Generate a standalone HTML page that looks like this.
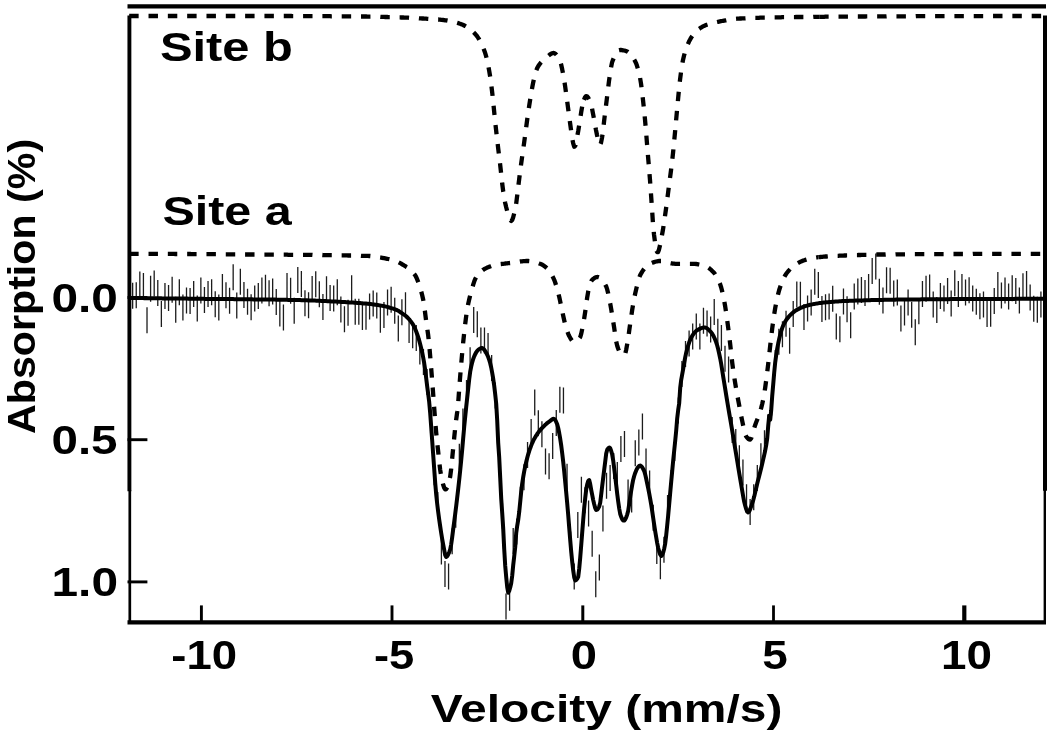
<!DOCTYPE html>
<html lang="en"><head><meta charset="utf-8"><title>Absorption vs Velocity spectrum</title>
<style>html,body{margin:0;padding:0;background:#fff;}body{width:1050px;height:741px;overflow:hidden;}svg{display:block;}</style>
</head><body>
<svg width="1050" height="741" viewBox="0 0 1050 741" font-family="'Liberation Sans', Arial, Helvetica, sans-serif" font-weight="bold" fill="#000">
<rect width="1050" height="741" fill="#fff"/>
<path d="M132.65 282.8V308.8M136.24 282.3V308.3M139.83 271.6V297.6M143.42 272.9V298.9M147.01 307.2V333.2M150.60 275.7V301.7M154.19 270.5V296.5M157.78 280.0V306.0M161.37 300.9V326.9M164.96 282.9V308.9M168.55 285.1V311.1M172.14 276.8V302.8M175.73 296.7V322.7M179.32 279.3V305.3M182.91 294.4V320.4M186.50 287.4V313.4M190.09 288.0V314.0M193.68 281.1V307.1M197.27 295.6V321.6M200.86 277.5V303.5M204.45 287.0V313.0M208.04 280.9V306.9M211.63 279.3V305.3M215.22 291.2V317.2M218.81 294.4V320.4M222.40 274.0V300.0M225.99 282.2V308.2M229.58 287.8V313.8M233.17 264.2V290.2M236.76 292.4V318.4M240.35 268.7V294.7M243.94 282.0V308.0M247.53 288.8V314.8M251.12 294.2V320.2M254.71 285.4V311.4M258.30 282.9V308.9M261.89 277.6V303.6M265.48 274.7V300.7M269.07 280.3V306.3M272.66 278.4V304.4M276.25 288.9V314.9M279.84 300.5V326.5M283.43 304.4V330.4M287.02 272.9V298.9M290.61 277.8V303.8M294.20 297.8V323.8M297.79 267.0V293.0M301.38 270.9V296.9M304.97 290.3V316.3M308.56 292.2V318.2M312.15 276.0V302.0M315.74 271.2V297.2M319.33 281.3V307.3M322.92 293.9V319.9M326.51 276.3V302.3M330.10 285.1V311.1M333.69 285.6V311.6M337.28 279.3V305.3M340.87 296.4V322.4M344.46 306.2V332.2M348.05 299.8V325.8M351.64 275.3V301.3M355.23 298.8V324.8M358.82 298.8V324.8M362.41 304.0V330.0M366.00 303.7V329.7M369.59 293.4V319.4M373.18 290.5V316.5M376.77 292.6V318.6M380.36 306.7V332.7M383.95 302.0V328.0M387.54 289.5V315.5M391.13 286.8V312.8M394.72 297.7V323.7M398.31 315.5V341.5M401.90 299.3V325.3M405.49 292.3V318.3M409.08 316.9V342.9M412.67 322.3V348.3M416.26 325.0V351.0M419.85 338.5V364.5M423.44 349.0V375.0M427.03 369.1V395.1M430.62 407.5V433.5M434.21 459.2V485.2M437.80 491.9V517.9M441.39 538.6V564.6M444.98 561.1V587.1M448.57 563.5V589.5M452.16 528.2V554.2M455.75 501.7V527.7M459.34 443.7V469.7M462.93 408.6V434.6M466.52 380.0V406.0M470.11 347.2V373.2M473.70 307.0V333.0M477.29 311.3V337.3M480.88 327.6V353.6M484.47 327.6V353.6M488.06 333.1V359.1M491.65 354.9V380.9M495.24 382.6V408.6M498.83 439.6V465.6M502.42 502.9V528.9M506.01 593.5V619.5M509.60 584.7V610.7M513.19 528.1V554.1M516.78 518.5V544.5M520.37 486.7V512.7M523.96 464.3V490.3M527.55 442.0V468.0M531.14 419.0V445.0M534.73 389.6V415.6M538.32 410.3V436.3M541.91 421.3V447.3M545.50 448.5V474.5M549.09 453.3V479.3M552.68 433.0V459.0M556.27 410.1V436.1M559.86 386.8V412.8M563.45 387.6V413.6M567.04 463.7V489.7M570.63 531.4V557.4M574.22 563.5V589.5M577.81 512.0V538.0M581.40 476.7V502.7M584.99 487.3V513.3M588.58 500.6V526.6M592.17 530.8V556.8M595.76 571.2V597.2M599.35 554.4V580.4M602.94 505.4V531.4M606.53 472.7V498.7M610.12 465.0V491.0M613.71 453.0V479.0M617.30 462.0V488.0M620.89 436.1V462.1M624.48 430.9V456.9M628.07 479.4V505.4M631.66 486.6V512.6M635.25 440.3V466.3M638.84 429.6V455.6M642.43 413.4V439.4M646.02 448.4V474.4M649.61 470.4V496.4M653.20 504.8V530.8M656.79 538.0V564.0M660.38 553.3V579.3M663.97 536.8V562.8M667.56 494.9V520.9M671.15 470.0V496.0M674.74 435.1V461.1M678.33 397.6V423.6M681.92 361.1V387.1M685.51 341.0V367.0M689.10 330.5V356.5M692.69 323.4V349.4M696.28 313.4V339.4M699.87 323.4V349.4M703.46 307.8V333.8M707.05 310.5V336.5M710.64 316.5V342.5M714.23 299.1V325.1M717.82 318.8V344.8M721.41 324.9V350.9M725.00 345.7V371.7M728.59 356.5V382.5M732.18 417.1V443.1M735.77 429.0V455.0M739.36 445.2V471.2M742.95 459.4V485.4M746.54 484.3V510.3M750.13 499.0V525.0M753.72 484.3V510.3M757.31 465.0V491.0M760.90 443.2V469.2M764.49 430.3V456.3M768.08 414.2V440.2M771.67 389.4V415.4M775.26 349.9V375.9M778.85 328.7V354.7M782.44 321.2V347.2M786.03 310.7V336.7M789.62 327.8V353.8M793.21 301.1V327.1M796.80 281.4V307.4M800.39 281.7V307.7M803.98 303.9V329.9M807.57 295.4V321.4M811.16 289.4V315.4M814.75 268.7V294.7M818.34 272.0V298.0M821.93 296.1V322.1M825.52 294.3V320.3M829.11 293.4V319.4M832.70 285.8V311.8M836.29 313.5V339.5M839.88 316.2V342.2M843.47 288.6V314.6M847.06 296.3V322.3M850.65 312.3V338.3M854.24 283.6V309.6M857.83 278.4V304.4M861.42 277.0V303.0M865.01 279.9V305.9M868.60 274.0V300.0M872.19 258.0V284.0M875.78 253.4V279.4M879.37 278.7V304.7M882.96 287.6V313.6M886.55 267.3V293.3M890.14 267.8V293.8M893.73 280.4V306.4M897.32 279.5V305.5M900.91 305.5V331.5M904.50 299.4V325.4M908.09 289.5V315.5M911.68 301.7V327.7M915.27 319.2V345.2M918.86 298.3V324.3M922.45 280.9V306.9M926.04 275.8V301.8M929.63 274.4V300.4M933.22 291.4V317.4M936.81 296.9V322.9M940.40 283.1V309.1M943.99 285.5V311.5M947.58 277.9V303.9M951.17 290.5V316.5M954.76 270.3V296.3M958.35 280.9V306.9M961.94 274.0V300.0M965.53 279.5V305.5M969.12 277.2V303.2M972.71 285.5V311.5M976.30 288.7V314.7M979.89 293.2V319.2M983.48 291.4V317.4M987.07 301.0V327.0M990.66 300.7V326.7M994.25 287.9V313.9M997.84 272.0V298.0M1001.43 282.6V308.6M1005.02 277.6V303.6M1008.61 283.5V309.5M1012.20 275.3V301.3M1015.79 277.9V303.9M1019.38 287.6V313.6M1022.97 273.3V299.3M1026.56 270.9V296.9M1030.15 284.6V310.6M1033.74 295.8V321.8M1037.33 296.7V322.7M1040.92 291.4V317.4" stroke="#1c1c1c" stroke-width="1.3" fill="none"/>
<g stroke="#000" fill="none" stroke-linecap="butt">
<path d="M127.5 6.4H1046" stroke-width="4.1"/>
<path d="M127.5 622.4H1046" stroke-width="4.15"/>
<path d="M129.4 15.5V491.2" stroke-width="3.9"/>
<path d="M129.8 490V622" stroke-width="2.7"/>
<path d="M1045 15.5V490.8" stroke-width="4"/>
<path d="M1044.8 490V622" stroke-width="2.4"/>
<path d="M201.4 605.4V622" stroke-width="2.9"/>
<path d="M392.0 605.4V622" stroke-width="2.9"/>
<path d="M582.8 605.4V622" stroke-width="3.0"/>
<path d="M773.5 605.4V622" stroke-width="2.8"/>
<path d="M964.3 605.4V622" stroke-width="4.2"/>
<path d="M127.5 297.5H147.4" stroke-width="2.9"/>
<path d="M127.5 439.7H147.4" stroke-width="2.9"/>
<path d="M127.5 581.9H147.4" stroke-width="2.9"/>
</g>
<path d="M129.2 16.0 L130.2 16.0 L131.2 16.0 L132.2 16.0 L133.2 16.0 L134.2 16.0 L135.2 16.0 L136.2 16.0 L137.2 16.0 L138.2 16.0 L139.2 16.0 L140.2 16.0 L141.2 16.0 L142.2 16.0 L143.2 16.0 L144.2 16.0 L145.2 16.0 L146.2 16.0 L147.2 16.0 L148.2 16.0 L149.2 16.0 L150.2 16.0 L151.2 16.0 L152.2 16.0 L153.2 16.0 L154.2 16.0 L155.2 16.0 L156.2 16.0 L157.2 16.0 L158.2 16.0 L159.2 16.0 L160.2 16.0 L161.2 16.0 L162.2 16.0 L163.2 16.0 L164.2 16.0 L165.2 16.0 L166.2 16.0 L167.2 16.0 L168.2 16.0 L169.2 16.0 L170.2 16.0 L171.2 16.0 L172.2 16.0 L173.2 16.0 L174.2 16.0 L175.2 16.0 L176.2 16.0 L177.2 16.0 L178.2 16.0 L179.2 16.0 L180.2 16.0 L181.2 16.0 L182.2 16.0 L183.2 16.0 L184.2 16.0 L185.2 16.0 L186.2 16.0 L187.2 16.0 L188.2 16.0 L189.2 16.0 L190.2 16.0 L191.2 16.0 L192.2 16.0 L193.2 16.0 L194.2 16.0 L195.2 16.0 L196.2 16.0 L197.2 16.0 L198.2 16.0 L199.2 16.0 L200.2 16.0 L201.2 16.0 L202.2 16.0 L203.2 16.0 L204.2 16.0 L205.2 16.0 L206.2 16.0 L207.2 16.0 L208.2 16.0 L209.2 16.0 L210.2 16.0 L211.2 16.0 L212.2 16.0 L213.2 16.0 L214.2 16.0 L215.2 16.0 L216.2 16.0 L217.2 16.0 L218.2 16.0 L219.2 16.0 L220.2 16.0 L221.2 16.0 L222.2 16.0 L223.2 16.0 L224.2 16.0 L225.2 16.0 L226.2 16.0 L227.2 16.0 L228.2 16.0 L229.2 16.0 L230.2 16.0 L231.2 16.0 L232.2 16.0 L233.2 16.0 L234.2 16.0 L235.2 16.0 L236.2 16.0 L237.2 16.0 L238.2 16.0 L239.2 16.0 L240.2 16.0 L241.2 16.0 L242.2 16.0 L243.2 16.0 L244.2 16.0 L245.2 16.0 L246.2 16.0 L247.2 16.0 L248.2 16.0 L249.2 16.0 L250.2 16.0 L251.2 16.0 L252.2 16.0 L253.2 16.0 L254.2 16.0 L255.2 16.0 L256.2 16.0 L257.2 16.0 L258.2 16.0 L259.2 16.0 L260.2 16.0 L261.2 16.0 L262.2 16.0 L263.2 16.0 L264.2 16.0 L265.2 16.0 L266.2 16.0 L267.2 16.0 L268.2 16.0 L269.2 16.0 L270.2 16.0 L271.2 16.0 L272.2 16.0 L273.2 16.0 L274.2 16.0 L275.2 16.0 L276.2 16.0 L277.2 16.0 L278.2 16.0 L279.2 16.0 L280.2 16.0 L281.2 16.0 L282.2 16.0 L283.2 16.0 L284.2 16.0 L285.2 16.0 L286.2 16.0 L287.2 16.0 L288.2 16.0 L289.2 16.0 L290.2 16.0 L291.2 16.0 L292.2 16.1 L293.2 16.1 L294.2 16.1 L295.2 16.1 L296.2 16.1 L297.2 16.1 L298.2 16.1 L299.2 16.1 L300.2 16.1 L301.2 16.1 L302.2 16.1 L303.2 16.1 L304.2 16.1 L305.2 16.1 L306.2 16.1 L307.2 16.1 L308.2 16.1 L309.2 16.1 L310.2 16.1 L311.2 16.1 L312.2 16.1 L313.2 16.1 L314.2 16.1 L315.2 16.2 L316.2 16.2 L317.2 16.2 L318.2 16.2 L319.2 16.2 L320.2 16.2 L321.2 16.2 L322.2 16.2 L323.2 16.2 L324.2 16.2 L325.2 16.2 L326.2 16.2 L327.2 16.2 L328.2 16.2 L329.2 16.2 L330.2 16.2 L331.2 16.3 L332.2 16.3 L333.2 16.3 L334.2 16.3 L335.2 16.3 L336.2 16.3 L337.2 16.3 L338.2 16.3 L339.2 16.3 L340.2 16.3 L341.2 16.3 L342.2 16.3 L343.2 16.3 L344.2 16.3 L345.2 16.4 L346.2 16.4 L347.2 16.4 L348.2 16.4 L349.2 16.4 L350.2 16.4 L351.2 16.4 L352.2 16.4 L353.2 16.4 L354.2 16.4 L355.2 16.4 L356.2 16.4 L357.2 16.5 L358.2 16.5 L359.2 16.5 L360.2 16.5 L361.2 16.5 L362.2 16.5 L363.2 16.5 L364.2 16.5 L365.2 16.5 L366.2 16.5 L367.2 16.6 L368.2 16.6 L369.2 16.6 L370.2 16.6 L371.2 16.6 L372.2 16.6 L373.2 16.7 L374.2 16.7 L375.2 16.7 L376.2 16.7 L377.2 16.8 L378.2 16.8 L379.2 16.8 L380.2 16.8 L381.2 16.9 L382.2 16.9 L383.2 16.9 L384.2 16.9 L385.2 17.0 L386.2 17.0 L387.2 17.0 L388.2 17.1 L389.2 17.1 L390.2 17.1 L391.2 17.1 L392.2 17.2 L393.2 17.2 L394.2 17.2 L395.2 17.3 L396.2 17.3 L397.2 17.3 L398.2 17.4 L399.2 17.4 L400.2 17.4 L401.2 17.5 L402.2 17.5 L403.2 17.5 L404.2 17.6 L405.2 17.6 L406.2 17.7 L407.2 17.7 L408.2 17.7 L409.2 17.8 L410.2 17.8 L411.2 17.9 L412.2 17.9 L413.2 18.0 L414.2 18.0 L415.2 18.1 L416.2 18.1 L417.2 18.2 L418.2 18.2 L419.2 18.3 L420.2 18.3 L421.2 18.4 L422.2 18.5 L423.2 18.5 L424.2 18.6 L425.2 18.6 L426.2 18.7 L427.2 18.8 L428.2 18.8 L429.2 18.9 L430.2 19.0 L431.2 19.0 L432.2 19.1 L433.2 19.2 L434.2 19.2 L435.2 19.3 L436.2 19.4 L437.2 19.5 L438.2 19.5 L439.2 19.6 L440.2 19.7 L441.2 19.8 L442.2 19.9 L443.2 20.0 L444.2 20.1 L445.2 20.3 L446.2 20.4 L447.2 20.5 L448.2 20.7 L449.2 20.8 L450.2 21.0 L451.2 21.2 L452.2 21.4 L453.2 21.7 L454.2 21.9 L455.2 22.2 L456.2 22.5 L457.2 22.8 L458.2 23.1 L459.2 23.5 L460.2 23.8 L461.2 24.2 L462.2 24.6 L463.2 25.0 L464.2 25.5 L465.2 26.0 L466.2 26.6 L467.2 27.2 L468.2 27.8 L469.2 28.6 L470.2 29.3 L471.2 30.1 L472.2 31.0 L473.2 31.9 L474.2 32.9 L475.2 34.0 L476.2 35.1 L477.2 36.4 L478.2 37.9 L479.2 39.5 L480.2 41.3 L481.2 43.3 L482.2 45.5 L483.2 47.8 L484.2 50.3 L485.2 53.1 L486.2 56.5 L487.2 60.6 L488.2 65.5 L489.2 70.8 L490.2 76.9 L491.2 84.2 L492.2 92.4 L493.2 101.6 L494.2 112.0 L495.2 121.9 L496.2 131.1 L497.2 139.9 L498.2 148.4 L499.2 156.6 L500.2 164.9 L501.2 174.0 L502.2 183.6 L503.2 191.3 L504.2 197.6 L505.2 203.0 L506.2 207.3 L507.2 211.1 L508.2 214.7 L509.2 217.9 L510.2 220.1 L511.2 221.0 L512.2 220.0 L513.2 217.3 L514.2 213.4 L515.2 208.9 L516.2 203.5 L517.2 195.6 L518.2 187.0 L519.2 179.0 L520.2 171.1 L521.2 163.5 L522.2 156.3 L523.2 149.3 L524.2 142.2 L525.2 134.8 L526.2 127.1 L527.2 119.6 L528.2 112.6 L529.2 105.7 L530.2 99.3 L531.2 93.3 L532.2 87.6 L533.2 82.4 L534.2 78.1 L535.2 74.2 L536.2 70.8 L537.2 68.1 L538.2 66.3 L539.2 64.8 L540.2 63.4 L541.2 62.3 L542.2 61.2 L543.2 60.3 L544.2 59.4 L545.2 58.6 L546.2 57.7 L547.2 56.8 L548.2 55.9 L549.2 55.1 L550.2 54.3 L551.2 53.7 L552.2 53.3 L553.2 53.0 L554.2 53.1 L555.2 53.6 L556.2 54.5 L557.2 55.8 L558.2 57.5 L559.2 59.4 L560.2 61.5 L561.2 64.7 L562.2 69.3 L563.2 74.5 L564.2 80.1 L565.2 86.8 L566.2 94.1 L567.2 101.5 L568.2 109.0 L569.2 116.6 L570.2 123.9 L571.2 131.4 L572.2 138.4 L573.2 143.3 L574.2 146.7 L575.2 145.9 L576.2 141.8 L577.2 136.5 L578.2 131.2 L579.2 125.0 L580.2 118.8 L581.2 112.1 L582.2 106.2 L583.2 102.5 L584.0 99.9" stroke="#000" stroke-width="4.3" fill="none" stroke-dasharray="9.45 9.87" stroke-dashoffset="0" stroke-linejoin="round"/>
<path d="M584.0 99.9 L585.0 97.4 L586.0 96.1 L587.0 96.3 L588.0 97.4 L589.0 99.2 L590.0 101.3 L591.0 104.0 L592.0 108.3 L593.0 113.6 L594.0 118.8 L595.0 124.4 L596.0 130.1 L597.0 135.0 L598.0 139.4 L599.0 143.3 L600.0 145.0 L601.0 142.8 L602.0 137.8 L603.0 131.5 L604.0 122.1 L605.0 113.4 L606.0 105.4 L607.0 97.5 L608.0 89.2 L609.0 81.0 L610.0 74.2 L611.0 67.7 L612.0 62.6 L613.0 59.8 L614.0 57.4 L615.0 55.3 L616.0 53.5 L617.0 52.1 L618.0 50.9 L619.0 50.2 L620.0 50.0 L621.0 50.0 L622.0 50.1 L623.0 50.3 L624.0 50.5 L625.0 50.7 L626.0 51.0 L627.0 51.4 L628.0 52.0 L629.0 52.8 L630.0 53.8 L631.0 54.9 L632.0 56.3 L633.0 57.7 L634.0 59.3 L635.0 61.0 L636.0 63.1 L637.0 65.8 L638.0 69.1 L639.0 73.0 L640.0 77.5 L641.0 83.5 L642.0 91.4 L643.0 100.0 L644.0 109.2 L645.0 119.5 L646.0 130.9 L647.0 143.7 L648.0 156.0 L649.0 167.7 L650.0 180.0 L651.0 194.1 L652.0 208.6 L653.0 223.9 L654.0 234.5 L655.0 242.2 L656.0 248.4 L657.0 252.0 L658.0 252.1 L659.0 249.6 L660.0 245.3 L661.0 240.2 L662.0 235.0 L663.0 229.5 L664.0 223.0 L665.0 216.0 L666.0 208.9 L667.0 201.3 L668.0 193.4 L669.0 185.6 L670.0 178.0 L671.0 170.4 L672.0 162.3 L673.0 153.3 L674.0 143.1 L675.0 132.5 L676.0 121.5 L677.0 110.4 L678.0 99.7 L679.0 89.2 L680.0 80.0 L681.0 72.2 L682.0 65.4 L683.0 60.0 L684.0 55.8 L685.0 52.1 L686.0 48.9 L687.0 46.1 L688.0 43.8 L689.0 41.6 L690.0 39.7 L691.0 37.9 L692.0 36.3 L693.0 34.9 L694.0 33.6 L695.0 32.5 L696.0 31.5 L697.0 30.6 L698.0 29.8 L699.0 29.0 L700.0 28.3 L701.0 27.6 L702.0 27.0 L703.0 26.4 L704.0 25.9 L705.0 25.5 L706.0 25.1 L707.0 24.7 L708.0 24.4 L709.0 24.1 L710.0 23.8 L711.0 23.5 L712.0 23.2 L713.0 22.9 L714.0 22.7 L715.0 22.4 L716.0 22.2 L717.0 22.0 L718.0 21.8 L719.0 21.6 L720.0 21.4 L721.0 21.2 L722.0 21.0 L723.0 20.8 L724.0 20.6 L725.0 20.5 L726.0 20.3 L727.0 20.1 L728.0 19.9 L729.0 19.8 L730.0 19.6 L731.0 19.4 L732.0 19.3 L733.0 19.2 L734.0 19.0 L735.0 18.9 L736.0 18.8 L737.0 18.7 L738.0 18.6 L739.0 18.6 L740.0 18.5 L741.0 18.5 L742.0 18.4 L743.0 18.4 L744.0 18.3 L745.0 18.3 L746.0 18.2 L747.0 18.2 L748.0 18.1 L749.0 18.1 L750.0 18.1 L751.0 18.0 L752.0 18.0 L753.0 18.0 L754.0 17.9 L755.0 17.9 L756.0 17.9 L757.0 17.8 L758.0 17.8 L759.0 17.8 L760.0 17.7 L761.0 17.7 L762.0 17.7 L763.0 17.6 L764.0 17.6 L765.0 17.6 L766.0 17.6 L767.0 17.5 L768.0 17.5 L769.0 17.5 L770.0 17.5 L771.0 17.5 L772.0 17.4 L773.0 17.4 L774.0 17.4 L775.0 17.4 L776.0 17.3 L777.0 17.3 L778.0 17.3 L779.0 17.3 L780.0 17.3 L781.0 17.3 L782.0 17.2 L783.0 17.2 L784.0 17.2 L785.0 17.2 L786.0 17.2 L787.0 17.2 L788.0 17.2 L789.0 17.1 L790.0 17.1 L791.0 17.1 L792.0 17.1 L793.0 17.1 L794.0 17.1 L795.0 17.1 L796.0 17.0 L797.0 17.0 L798.0 17.0 L799.0 17.0 L800.0 17.0 L801.0 17.0 L802.0 17.0 L803.0 17.0 L804.0 17.0 L805.0 16.9 L806.0 16.9 L807.0 16.9 L808.0 16.9 L809.0 16.9 L810.0 16.9 L811.0 16.9 L812.0 16.9 L813.0 16.9 L814.0 16.8 L815.0 16.8 L816.0 16.8 L817.0 16.8 L818.0 16.8 L819.0 16.8 L819.2 16.8" stroke="#000" stroke-width="4.3" fill="none" stroke-dasharray="9.45 9.87" stroke-dashoffset="0.5" stroke-linejoin="round"/>
<path d="M819.2 16.8 L820.2 16.8 L821.2 16.8 L822.2 16.8 L823.2 16.8 L824.2 16.8 L825.2 16.7 L826.2 16.7 L827.2 16.7 L828.2 16.7 L829.2 16.7 L830.2 16.7 L831.2 16.7 L832.2 16.7 L833.2 16.7 L834.2 16.7 L835.2 16.7 L836.2 16.7 L837.2 16.6 L838.2 16.6 L839.2 16.6 L840.2 16.6 L841.2 16.6 L842.2 16.6 L843.2 16.6 L844.2 16.6 L845.2 16.6 L846.2 16.6 L847.2 16.6 L848.2 16.6 L849.2 16.6 L850.2 16.5 L851.2 16.5 L852.2 16.5 L853.2 16.5 L854.2 16.5 L855.2 16.5 L856.2 16.5 L857.2 16.5 L858.2 16.5 L859.2 16.5 L860.2 16.5 L861.2 16.5 L862.2 16.5 L863.2 16.5 L864.2 16.5 L865.2 16.5 L866.2 16.4 L867.2 16.4 L868.2 16.4 L869.2 16.4 L870.2 16.4 L871.2 16.4 L872.2 16.4 L873.2 16.4 L874.2 16.4 L875.2 16.4 L876.2 16.4 L877.2 16.4 L878.2 16.4 L879.2 16.4 L880.2 16.4 L881.2 16.4 L882.2 16.4 L883.2 16.4 L884.2 16.4 L885.2 16.4 L886.2 16.4 L887.2 16.3 L888.2 16.3 L889.2 16.3 L890.2 16.3 L891.2 16.3 L892.2 16.3 L893.2 16.3 L894.2 16.3 L895.2 16.3 L896.2 16.3 L897.2 16.3 L898.2 16.3 L899.2 16.3 L900.2 16.3 L901.2 16.3 L902.2 16.3 L903.2 16.3 L904.2 16.3 L905.2 16.3 L906.2 16.3 L907.2 16.3 L908.2 16.3 L909.2 16.3 L910.2 16.3 L911.2 16.3 L912.2 16.3 L913.2 16.3 L914.2 16.3 L915.2 16.3 L916.2 16.2 L917.2 16.2 L918.2 16.2 L919.2 16.2 L920.2 16.2 L921.2 16.2 L922.2 16.2 L923.2 16.2 L924.2 16.2 L925.2 16.2 L926.2 16.2 L927.2 16.2 L928.2 16.2 L929.2 16.2 L930.2 16.2 L931.2 16.2 L932.2 16.2 L933.2 16.2 L934.2 16.2 L935.2 16.2 L936.2 16.2 L937.2 16.2 L938.2 16.2 L939.2 16.2 L940.2 16.2 L941.2 16.2 L942.2 16.2 L943.2 16.2 L944.2 16.2 L945.2 16.2 L946.2 16.2 L947.2 16.2 L948.2 16.2 L949.2 16.1 L950.2 16.1 L951.2 16.1 L952.2 16.1 L953.2 16.1 L954.2 16.1 L955.2 16.1 L956.2 16.1 L957.2 16.1 L958.2 16.1 L959.2 16.1 L960.2 16.1 L961.2 16.1 L962.2 16.1 L963.2 16.1 L964.2 16.1 L965.2 16.1 L966.2 16.1 L967.2 16.1 L968.2 16.1 L969.2 16.1 L970.2 16.1 L971.2 16.1 L972.2 16.1 L973.2 16.1 L974.2 16.1 L975.2 16.1 L976.2 16.1 L977.2 16.1 L978.2 16.1 L979.2 16.1 L980.2 16.1 L981.2 16.1 L982.2 16.1 L983.2 16.1 L984.2 16.1 L985.2 16.1 L986.2 16.1 L987.2 16.1 L988.2 16.1 L989.2 16.1 L990.2 16.1 L991.2 16.0 L992.2 16.0 L993.2 16.0 L994.2 16.0 L995.2 16.0 L996.2 16.0 L997.2 16.0 L998.2 16.0 L999.2 16.0 L1000.2 16.0 L1001.2 16.0 L1002.2 16.0 L1003.2 16.0 L1004.2 16.0 L1005.2 16.0 L1006.2 16.0 L1007.2 16.0 L1008.2 16.0 L1009.2 16.0 L1010.2 16.0 L1011.2 16.0 L1012.2 16.0 L1013.2 16.0 L1014.2 16.0 L1015.2 16.0 L1016.2 16.0 L1017.2 16.0 L1018.2 16.0 L1019.2 16.0 L1020.2 16.0 L1021.2 16.0 L1022.2 16.0 L1023.2 16.0 L1024.2 16.0 L1025.2 16.0 L1026.2 16.0 L1027.2 16.0 L1028.2 16.0 L1029.2 16.0 L1030.2 16.0 L1031.2 16.0 L1032.2 16.0 L1033.2 16.0 L1034.2 16.0 L1035.2 16.0 L1036.2 16.0 L1037.2 16.0 L1038.2 16.0 L1039.2 16.0 L1040.2 16.0 L1041.2 16.0 L1042.2 16.0 L1043.2 16.0 L1043.6 16.0" stroke="#000" stroke-width="4.3" fill="none" stroke-dasharray="9.45 9.87" stroke-dashoffset="0" stroke-linejoin="round"/>
<path d="M129.2 253.7 L130.2 253.8 L131.2 253.8 L132.2 253.8 L133.2 253.8 L134.2 253.8 L135.2 253.8 L136.2 253.8 L137.2 253.8 L138.2 253.8 L139.2 253.8 L140.2 253.8 L141.2 253.8 L142.2 253.8 L143.2 253.8 L144.2 253.8 L145.2 253.8 L146.2 253.8 L147.2 253.8 L148.2 253.8 L149.2 253.8 L150.2 253.8 L151.2 253.8 L152.2 253.8 L153.2 253.8 L154.2 253.8 L155.2 253.8 L156.2 253.9 L157.2 253.9 L158.2 253.9 L159.2 253.9 L160.2 253.9 L161.2 253.9 L162.2 253.9 L163.2 253.9 L164.2 253.9 L165.2 253.9 L166.2 253.9 L167.2 253.9 L168.2 253.9 L169.2 253.9 L170.2 253.9 L171.2 253.9 L172.2 253.9 L173.2 253.9 L174.2 253.9 L175.2 254.0 L176.2 254.0 L177.2 254.0 L178.2 254.0 L179.2 254.0 L180.2 254.0 L181.2 254.0 L182.2 254.0 L183.2 254.0 L184.2 254.0 L185.2 254.0 L186.2 254.0 L187.2 254.0 L188.2 254.0 L189.2 254.0 L190.2 254.0 L191.2 254.1 L192.2 254.1 L193.2 254.1 L194.2 254.1 L195.2 254.1 L196.2 254.1 L197.2 254.1 L198.2 254.1 L199.2 254.1 L200.2 254.1 L201.2 254.1 L202.2 254.1 L203.2 254.1 L204.2 254.1 L205.2 254.2 L206.2 254.2 L207.2 254.2 L208.2 254.2 L209.2 254.2 L210.2 254.2 L211.2 254.2 L212.2 254.2 L213.2 254.2 L214.2 254.2 L215.2 254.2 L216.2 254.2 L217.2 254.2 L218.2 254.2 L219.2 254.3 L220.2 254.3 L221.2 254.3 L222.2 254.3 L223.2 254.3 L224.2 254.3 L225.2 254.3 L226.2 254.3 L227.2 254.3 L228.2 254.3 L229.2 254.3 L230.2 254.3 L231.2 254.3 L232.2 254.4 L233.2 254.4 L234.2 254.4 L235.2 254.4 L236.2 254.4 L237.2 254.4 L238.2 254.4 L239.2 254.4 L240.2 254.4 L241.2 254.4 L242.2 254.4 L243.2 254.4 L244.2 254.5 L245.2 254.5 L246.2 254.5 L247.2 254.5 L248.2 254.5 L249.2 254.5 L250.2 254.5 L251.2 254.5 L252.2 254.5 L253.2 254.5 L254.2 254.5 L255.2 254.5 L256.2 254.5 L257.2 254.6 L258.2 254.6 L259.2 254.6 L260.2 254.6 L261.2 254.6 L262.2 254.6 L263.2 254.6 L264.2 254.6 L265.2 254.6 L266.2 254.6 L267.2 254.6 L268.2 254.6 L269.2 254.6 L270.2 254.6 L271.2 254.7 L272.2 254.7 L273.2 254.7 L274.2 254.7 L275.2 254.7 L276.2 254.7 L277.2 254.7 L278.2 254.7 L279.2 254.7 L280.2 254.7 L281.2 254.7 L282.2 254.7 L283.2 254.7 L284.2 254.7 L285.2 254.7 L286.2 254.7 L287.2 254.7 L288.2 254.8 L289.2 254.8 L290.2 254.8 L291.2 254.8 L292.2 254.8 L293.2 254.8 L294.2 254.8 L295.2 254.8 L296.2 254.8 L297.2 254.8 L298.2 254.8 L299.2 254.8 L300.2 254.8 L301.2 254.8 L302.2 254.9 L303.2 254.9 L304.2 254.9 L305.2 254.9 L306.2 254.9 L307.2 254.9 L308.2 254.9 L309.2 254.9 L310.2 254.9 L311.2 254.9 L312.2 254.9 L313.2 255.0 L314.2 255.0 L315.2 255.0 L316.2 255.0 L317.2 255.0 L318.2 255.0 L319.2 255.0 L320.2 255.0 L321.2 255.0 L322.2 255.0 L323.2 255.1 L324.2 255.1 L325.2 255.1 L326.2 255.1 L327.2 255.1 L328.2 255.1 L329.2 255.1 L330.2 255.1 L331.2 255.2 L332.2 255.2 L333.2 255.2 L334.2 255.2 L335.2 255.2 L336.2 255.2 L337.2 255.3 L338.2 255.3 L339.2 255.3 L340.2 255.3 L341.2 255.3 L342.2 255.3 L343.2 255.4 L344.2 255.4 L345.2 255.4 L346.2 255.4 L347.2 255.4 L348.2 255.5 L349.2 255.5 L350.2 255.5 L351.2 255.5 L352.2 255.5 L353.2 255.6 L354.2 255.6 L355.2 255.6 L356.2 255.6 L357.2 255.7 L358.2 255.7 L359.2 255.7 L360.2 255.7 L361.2 255.8 L362.2 255.8 L363.2 255.8 L364.2 255.8 L365.2 255.9 L366.2 255.9 L367.2 255.9 L368.2 255.9 L369.2 256.0 L370.2 256.0 L371.2 256.1 L372.2 256.2 L373.2 256.3 L374.2 256.4 L375.2 256.6 L376.2 256.8 L377.2 257.0 L378.2 257.2 L379.2 257.4 L380.2 257.5 L381.2 257.7 L382.2 257.9 L383.2 258.0 L384.2 258.2 L385.2 258.4 L386.2 258.6 L387.2 258.8 L388.2 259.0 L389.2 259.2 L390.2 259.4 L391.2 259.7 L392.2 259.9 L393.2 260.2 L394.2 260.5 L395.2 260.9 L396.2 261.3 L397.2 261.7 L398.2 262.2 L399.2 262.7 L400.2 263.2 L401.2 263.7 L402.2 264.3 L403.2 264.9 L404.2 265.5 L405.2 266.1 L406.2 266.8 L407.2 267.4 L408.2 268.1 L409.2 268.9 L410.2 269.7 L411.2 270.6 L412.2 271.6 L413.2 272.7 L414.2 273.9 L415.2 275.3 L416.2 277.1 L417.2 279.4 L418.2 282.1 L419.2 285.0 L420.2 288.1 L421.2 291.4 L422.2 295.2 L423.2 299.7 L424.2 305.3 L425.2 313.4 L426.2 321.5 L427.2 328.3 L428.2 335.4 L429.2 344.5 L430.2 356.4 L431.2 368.5 L432.2 381.1 L433.2 394.3 L434.2 408.0 L435.2 421.3 L436.2 432.7 L437.2 442.6 L438.2 451.8 L439.2 461.4 L440.2 470.0 L441.2 476.0 L442.2 480.6 L443.2 484.8 L444.2 487.8 L445.2 489.4 L446.2 489.1 L447.2 487.4 L448.2 484.5 L449.2 480.8 L450.2 476.5 L451.2 468.7 L452.2 458.3 L453.2 448.1 L454.2 437.8 L455.2 427.8 L456.2 419.4 L457.2 412.1 L458.2 402.8 L459.2 389.0 L460.2 376.2 L461.2 364.1 L462.2 352.8 L463.2 342.3 L464.2 332.6 L465.2 324.0 L466.2 316.1 L467.2 309.2 L468.2 303.9 L469.2 299.4 L470.2 295.4 L471.2 291.8 L472.2 288.2 L473.2 284.7 L474.2 281.6 L475.2 279.0 L476.2 277.2 L477.2 275.8 L478.2 274.5 L479.2 273.3 L480.2 272.3 L481.2 271.4 L482.2 270.6 L483.2 269.8 L484.2 269.2 L485.2 268.6 L486.2 268.1 L487.2 267.6 L488.2 267.2 L489.2 266.8 L490.2 266.4 L491.2 266.0 L492.2 265.7 L493.2 265.4 L494.2 265.2 L495.2 265.0 L496.2 264.8 L497.2 264.6 L498.2 264.4 L499.2 264.3 L500.2 264.1 L501.2 264.0 L502.2 263.9 L503.2 263.8 L504.2 263.7 L505.2 263.5 L506.2 263.4 L507.2 263.3 L508.2 263.2 L509.2 263.1 L510.2 263.0 L511.2 262.8 L512.2 262.7 L513.2 262.6 L514.2 262.4 L515.2 262.3 L516.2 262.1 L517.2 262.0 L518.2 261.8 L519.2 261.7 L520.2 261.5 L521.2 261.4 L522.2 261.3 L523.2 261.2 L524.2 261.1 L525.2 261.1 L526.2 261.0 L527.2 261.0 L528.2 261.0 L529.2 261.1 L530.2 261.2 L531.2 261.3 L532.2 261.5 L533.2 261.7 L534.2 261.9 L535.2 262.2 L536.2 262.5 L537.2 262.8 L538.2 263.1 L539.2 263.5 L540.2 263.8 L541.2 264.2 L542.2 264.7 L543.2 265.3 L544.2 266.0 L545.2 266.7 L546.2 267.6 L547.2 268.5 L548.2 269.5 L549.2 270.7 L550.2 272.1 L551.2 273.8 L552.2 275.6 L553.2 277.6 L554.2 279.8 L555.2 282.5 L556.2 285.6 L557.2 289.2 L558.2 292.9 L559.2 296.8 L560.2 301.4 L561.2 306.3 L562.2 311.1 L563.2 315.7 L564.2 320.3 L565.2 324.6 L566.2 328.1 L567.2 331.1 L568.2 333.8 L569.2 336.0 L570.2 337.8 L571.2 339.5 L572.2 340.9 L573.2 341.8 L574.2 342.0 L575.2 341.7 L576.2 341.2 L577.2 340.5 L578.2 339.6 L579.2 338.5 L580.2 337.2 L581.2 333.9 L582.2 329.1 L583.2 324.0 L584.2 318.3 L585.2 311.9 L586.2 304.9 L587.2 297.3 L588.2 291.6 L589.2 287.4 L590.2 283.9 L591.2 281.2 L592.2 279.8 L593.2 278.9 L594.2 278.2 L595.2 277.6 L596.2 277.2 L597.2 277.0 L598.2 277.1 L599.2 277.4 L600.2 278.1 L601.2 279.0 L602.2 280.1 L603.2 281.4 L604.2 282.9 L605.2 284.6 L606.2 286.4 L607.2 289.4 L608.2 293.6 L609.2 298.5 L610.2 303.5 L611.2 309.1 L612.2 315.2 L613.2 321.6 L614.2 327.9 L615.2 334.9 L616.2 341.4 L617.2 345.7 L618.2 348.7 L619.2 351.2 L620.2 353.0 L621.2 353.9 L622.2 354.4 L623.2 354.8 L624.2 355.0 L625.2 353.9 L626.2 349.7 L627.2 344.1 L628.2 338.2 L629.2 330.8 L630.2 323.6 L631.2 316.7 L632.2 309.9 L633.2 303.9 L634.2 298.4 L635.2 293.5 L636.2 289.2 L637.2 285.0 L638.2 281.1 L639.2 277.7 L640.2 275.1 L641.2 273.3 L642.2 271.6 L643.2 270.1 L644.2 268.8 L645.2 267.6 L646.2 266.5 L647.2 265.6 L648.2 264.8 L649.2 264.2 L650.2 263.7 L651.2 263.2 L652.2 262.8 L653.2 262.4 L654.2 262.1 L655.2 261.8 L656.2 261.5 L657.2 261.3 L658.2 261.1 L659.2 261.0 L660.2 261.0 L661.2 261.0 L662.2 261.2 L663.2 261.3 L664.2 261.5 L665.2 261.8 L666.2 262.0 L667.2 262.3 L668.2 262.6 L669.2 262.8 L670.2 263.1 L671.2 263.3 L672.2 263.5 L673.2 263.6 L674.2 263.7 L675.2 263.8 L676.2 263.8 L677.2 263.8 L678.2 263.8 L679.2 263.8 L680.2 263.8 L681.2 263.8 L682.2 263.8 L683.2 263.8 L684.2 263.8 L685.2 263.8 L686.2 263.8 L687.2 263.8 L688.2 263.8 L689.2 263.8 L690.2 263.8 L691.2 263.8 L692.2 263.8 L693.2 263.8 L694.2 263.8 L695.2 263.9 L696.2 264.0 L697.2 264.1 L698.2 264.3 L699.2 264.5 L700.2 264.7 L701.2 264.9 L702.2 265.2 L703.2 265.5 L704.2 265.8 L705.2 266.1 L706.2 266.4 L707.2 267.0 L708.2 267.6 L709.2 268.3 L710.2 269.1 L711.2 269.9 L712.2 270.9 L713.2 271.9 L714.2 273.0 L715.2 274.3 L716.2 275.8 L717.2 277.6 L718.2 279.5 L719.2 281.8 L720.2 284.3 L721.2 287.5 L722.2 291.4 L723.2 296.0 L724.2 300.9 L725.2 306.5 L726.2 313.1 L727.2 320.3 L728.2 327.8 L729.2 335.8 L730.2 344.2 L731.2 353.5 L732.2 362.6 L733.2 370.2 L734.2 376.9 L735.2 383.2 L736.2 389.1 L737.2 394.7 L738.2 400.1 L739.2 405.4 L740.2 410.8 L741.2 416.1 L742.2 420.9 L743.2 425.7 L744.2 430.3 L745.2 434.2 L746.2 436.5 L747.2 437.8 L748.2 438.8 L749.2 439.4 L750.2 439.6 L751.2 438.2 L752.2 435.3 L753.2 431.7 L754.2 428.0 L755.2 425.0 L756.2 422.3 L757.2 419.8 L758.2 417.2 L759.2 414.5 L760.2 411.3 L761.2 407.9 L762.2 404.0 L763.2 399.5 L764.2 394.1 L765.2 387.6 L766.2 380.2 L767.2 372.4 L768.2 364.0 L769.2 354.8 L770.2 345.8 L771.2 337.0 L772.2 328.6 L773.2 321.1 L774.2 314.3 L775.2 308.1 L776.2 302.7 L777.2 298.0 L778.2 293.8 L779.2 290.0 L780.2 286.9 L781.2 284.2 L782.2 281.6 L783.2 279.3 L784.2 277.2 L785.2 275.4 L786.2 273.8 L787.2 272.5 L788.2 271.2 L789.2 270.1 L790.2 269.0 L791.2 268.0 L792.2 267.1 L793.2 266.3 L794.2 265.6 L795.2 264.9 L796.2 264.2 L797.2 263.6 L798.2 263.0 L799.2 262.4 L800.2 261.9 L801.2 261.4 L802.2 261.0 L803.2 260.6 L804.2 260.3 L805.2 259.9 L806.2 259.7 L807.2 259.4 L808.2 259.1 L809.2 258.9 L810.2 258.6 L811.2 258.4 L812.2 258.2 L813.2 258.0 L814.2 257.8 L815.2 257.6 L816.2 257.5 L817.2 257.3 L818.2 257.2 L818.4 257.2" stroke="#000" stroke-width="4.3" fill="none" stroke-dasharray="9.45 9.87" stroke-dashoffset="0" stroke-linejoin="round"/>
<path d="M818.4 257.2 L819.4 257.1 L820.4 257.0 L821.4 256.9 L822.4 256.8 L823.4 256.7 L824.4 256.6 L825.4 256.5 L826.4 256.5 L827.4 256.4 L828.4 256.3 L829.4 256.3 L830.4 256.2 L831.4 256.1 L832.4 256.1 L833.4 256.0 L834.4 256.0 L835.4 255.9 L836.4 255.9 L837.4 255.8 L838.4 255.8 L839.4 255.7 L840.4 255.7 L841.4 255.6 L842.4 255.6 L843.4 255.6 L844.4 255.5 L845.4 255.5 L846.4 255.4 L847.4 255.4 L848.4 255.4 L849.4 255.3 L850.4 255.3 L851.4 255.3 L852.4 255.2 L853.4 255.2 L854.4 255.2 L855.4 255.1 L856.4 255.1 L857.4 255.1 L858.4 255.0 L859.4 255.0 L860.4 255.0 L861.4 254.9 L862.4 254.9 L863.4 254.9 L864.4 254.8 L865.4 254.8 L866.4 254.8 L867.4 254.8 L868.4 254.7 L869.4 254.7 L870.4 254.7 L871.4 254.7 L872.4 254.6 L873.4 254.6 L874.4 254.6 L875.4 254.6 L876.4 254.6 L877.4 254.5 L878.4 254.5 L879.4 254.5 L880.4 254.5 L881.4 254.5 L882.4 254.5 L883.4 254.5 L884.4 254.5 L885.4 254.5 L886.4 254.4 L887.4 254.4 L888.4 254.4 L889.4 254.4 L890.4 254.4 L891.4 254.4 L892.4 254.4 L893.4 254.4 L894.4 254.4 L895.4 254.4 L896.4 254.3 L897.4 254.3 L898.4 254.3 L899.4 254.3 L900.4 254.3 L901.4 254.3 L902.4 254.3 L903.4 254.3 L904.4 254.3 L905.4 254.3 L906.4 254.3 L907.4 254.3 L908.4 254.3 L909.4 254.2 L910.4 254.2 L911.4 254.2 L912.4 254.2 L913.4 254.2 L914.4 254.2 L915.4 254.2 L916.4 254.2 L917.4 254.2 L918.4 254.2 L919.4 254.2 L920.4 254.2 L921.4 254.2 L922.4 254.2 L923.4 254.2 L924.4 254.2 L925.4 254.2 L926.4 254.1 L927.4 254.1 L928.4 254.1 L929.4 254.1 L930.4 254.1 L931.4 254.1 L932.4 254.1 L933.4 254.1 L934.4 254.1 L935.4 254.1 L936.4 254.1 L937.4 254.1 L938.4 254.1 L939.4 254.1 L940.4 254.1 L941.4 254.1 L942.4 254.1 L943.4 254.1 L944.4 254.1 L945.4 254.1 L946.4 254.1 L947.4 254.1 L948.4 254.0 L949.4 254.0 L950.4 254.0 L951.4 254.0 L952.4 254.0 L953.4 254.0 L954.4 254.0 L955.4 254.0 L956.4 254.0 L957.4 254.0 L958.4 254.0 L959.4 254.0 L960.4 254.0 L961.4 254.0 L962.4 254.0 L963.4 254.0 L964.4 254.0 L965.4 254.0 L966.4 254.0 L967.4 254.0 L968.4 254.0 L969.4 254.0 L970.4 254.0 L971.4 254.0 L972.4 254.0 L973.4 253.9 L974.4 253.9 L975.4 253.9 L976.4 253.9 L977.4 253.9 L978.4 253.9 L979.4 253.9 L980.4 253.9 L981.4 253.9 L982.4 253.9 L983.4 253.9 L984.4 253.9 L985.4 253.9 L986.4 253.9 L987.4 253.9 L988.4 253.9 L989.4 253.9 L990.4 253.9 L991.4 253.9 L992.4 253.9 L993.4 253.9 L994.4 253.9 L995.4 253.9 L996.4 253.9 L997.4 253.9 L998.4 253.9 L999.4 253.9 L1000.4 253.8 L1001.4 253.8 L1002.4 253.8 L1003.4 253.8 L1004.4 253.8 L1005.4 253.8 L1006.4 253.8 L1007.4 253.8 L1008.4 253.8 L1009.4 253.8 L1010.4 253.8 L1011.4 253.8 L1012.4 253.8 L1013.4 253.8 L1014.4 253.8 L1015.4 253.8 L1016.4 253.8 L1017.4 253.8 L1018.4 253.8 L1019.4 253.8 L1020.4 253.8 L1021.4 253.8 L1022.4 253.8 L1023.4 253.8 L1024.4 253.8 L1025.4 253.8 L1026.4 253.8 L1027.4 253.8 L1028.4 253.8 L1029.4 253.8 L1030.4 253.8 L1031.4 253.8 L1032.4 253.8 L1033.4 253.8 L1034.4 253.8 L1035.4 253.8 L1036.4 253.8 L1037.4 253.8 L1038.4 253.8 L1039.4 253.8 L1040.4 253.8 L1041.4 253.8 L1042.4 253.8 L1043.4 253.7 L1043.6 253.7" stroke="#000" stroke-width="4.3" fill="none" stroke-dasharray="9.45 9.87" stroke-dashoffset="0" stroke-linejoin="round"/>
<path d="M129.2 298.0 L130.2 298.0 L131.2 298.0 L132.2 298.0 L133.2 298.0 L134.2 298.0 L135.2 298.1 L136.2 298.1 L137.2 298.1 L138.2 298.1 L139.2 298.1 L140.2 298.1 L141.2 298.1 L142.2 298.1 L143.2 298.1 L144.2 298.2 L145.2 298.2 L146.2 298.2 L147.2 298.2 L148.2 298.2 L149.2 298.2 L150.2 298.2 L151.2 298.2 L152.2 298.2 L153.2 298.3 L154.2 298.3 L155.2 298.3 L156.2 298.3 L157.2 298.3 L158.2 298.3 L159.2 298.3 L160.2 298.3 L161.2 298.3 L162.2 298.4 L163.2 298.4 L164.2 298.4 L165.2 298.4 L166.2 298.4 L167.2 298.4 L168.2 298.4 L169.2 298.4 L170.2 298.5 L171.2 298.5 L172.2 298.5 L173.2 298.5 L174.2 298.5 L175.2 298.5 L176.2 298.5 L177.2 298.5 L178.2 298.5 L179.2 298.6 L180.2 298.6 L181.2 298.6 L182.2 298.6 L183.2 298.6 L184.2 298.6 L185.2 298.6 L186.2 298.6 L187.2 298.6 L188.2 298.7 L189.2 298.7 L190.2 298.7 L191.2 298.7 L192.2 298.7 L193.2 298.7 L194.2 298.7 L195.2 298.7 L196.2 298.8 L197.2 298.8 L198.2 298.8 L199.2 298.8 L200.2 298.8 L201.2 298.8 L202.2 298.8 L203.2 298.8 L204.2 298.8 L205.2 298.9 L206.2 298.9 L207.2 298.9 L208.2 298.9 L209.2 298.9 L210.2 298.9 L211.2 298.9 L212.2 298.9 L213.2 298.9 L214.2 299.0 L215.2 299.0 L216.2 299.0 L217.2 299.0 L218.2 299.0 L219.2 299.0 L220.2 299.0 L221.2 299.0 L222.2 299.0 L223.2 299.1 L224.2 299.1 L225.2 299.1 L226.2 299.1 L227.2 299.1 L228.2 299.1 L229.2 299.1 L230.2 299.1 L231.2 299.1 L232.2 299.1 L233.2 299.1 L234.2 299.2 L235.2 299.2 L236.2 299.2 L237.2 299.2 L238.2 299.2 L239.2 299.2 L240.2 299.2 L241.2 299.2 L242.2 299.2 L243.2 299.3 L244.2 299.3 L245.2 299.3 L246.2 299.3 L247.2 299.3 L248.2 299.3 L249.2 299.3 L250.2 299.3 L251.2 299.3 L252.2 299.3 L253.2 299.4 L254.2 299.4 L255.2 299.4 L256.2 299.4 L257.2 299.4 L258.2 299.4 L259.2 299.4 L260.2 299.4 L261.2 299.5 L262.2 299.5 L263.2 299.5 L264.2 299.5 L265.2 299.5 L266.2 299.5 L267.2 299.5 L268.2 299.5 L269.2 299.6 L270.2 299.6 L271.2 299.6 L272.2 299.6 L273.2 299.6 L274.2 299.6 L275.2 299.6 L276.2 299.7 L277.2 299.7 L278.2 299.7 L279.2 299.7 L280.2 299.7 L281.2 299.7 L282.2 299.8 L283.2 299.8 L284.2 299.8 L285.2 299.8 L286.2 299.8 L287.2 299.8 L288.2 299.9 L289.2 299.9 L290.2 299.9 L291.2 299.9 L292.2 299.9 L293.2 300.0 L294.2 300.0 L295.2 300.0 L296.2 300.0 L297.2 300.0 L298.2 300.1 L299.2 300.1 L300.2 300.1 L301.2 300.2 L302.2 300.2 L303.2 300.2 L304.2 300.2 L305.2 300.3 L306.2 300.3 L307.2 300.3 L308.2 300.4 L309.2 300.4 L310.2 300.4 L311.2 300.5 L312.2 300.5 L313.2 300.6 L314.2 300.6 L315.2 300.6 L316.2 300.7 L317.2 300.7 L318.2 300.8 L319.2 300.8 L320.2 300.8 L321.2 300.9 L322.2 300.9 L323.2 301.0 L324.2 301.0 L325.2 301.1 L326.2 301.1 L327.2 301.2 L328.2 301.2 L329.2 301.3 L330.2 301.3 L331.2 301.4 L332.2 301.4 L333.2 301.5 L334.2 301.5 L335.2 301.6 L336.2 301.6 L337.2 301.7 L338.2 301.7 L339.2 301.8 L340.2 301.8 L341.2 301.9 L342.2 302.0 L343.2 302.0 L344.2 302.1 L345.2 302.1 L346.2 302.2 L347.2 302.2 L348.2 302.3 L349.2 302.4 L350.2 302.4 L351.2 302.5 L352.2 302.5 L353.2 302.6 L354.2 302.7 L355.2 302.8 L356.2 302.8 L357.2 302.9 L358.2 303.0 L359.2 303.0 L360.2 303.1 L361.2 303.2 L362.2 303.3 L363.2 303.4 L364.2 303.5 L365.2 303.5 L366.2 303.6 L367.2 303.7 L368.2 303.8 L369.2 303.9 L370.2 304.0 L371.2 304.1 L372.2 304.3 L373.2 304.4 L374.2 304.5 L375.2 304.7 L376.2 304.8 L377.2 305.0 L378.2 305.1 L379.2 305.3 L380.2 305.4 L381.2 305.6 L382.2 305.8 L383.2 305.9 L384.2 306.1 L385.2 306.4 L386.2 306.6 L387.2 306.9 L388.2 307.2 L389.2 307.5 L390.2 307.8 L391.2 308.1 L392.2 308.4 L393.2 308.7 L394.2 309.0 L395.2 309.4 L396.2 309.8 L397.2 310.2 L398.2 310.7 L399.2 311.4 L400.2 312.1 L401.2 312.8 L402.2 313.4 L403.2 314.1 L404.2 314.7 L405.2 315.5 L406.2 316.3 L407.2 317.2 L408.2 318.3 L409.2 319.3 L410.2 320.6 L411.2 321.9 L412.2 323.3 L413.2 324.9 L414.2 326.8 L415.2 329.0 L416.2 331.5 L417.2 334.2 L418.2 337.1 L419.2 340.5 L420.2 344.3 L421.2 348.3 L422.2 352.7 L423.2 357.6 L424.2 363.2 L425.2 370.0 L426.2 378.3 L427.2 386.6 L428.2 394.0 L429.2 402.1 L430.2 413.4 L431.2 426.9 L432.2 440.8 L433.2 454.9 L434.2 468.8 L435.2 482.9 L436.2 494.5 L437.2 503.9 L438.2 512.0 L439.2 519.4 L440.2 526.4 L441.2 533.0 L442.2 539.1 L443.2 544.7 L444.2 549.9 L445.2 555.1 L446.2 557.0 L447.2 556.2 L448.2 554.5 L449.2 552.2 L450.2 549.4 L451.2 544.3 L452.2 537.1 L453.2 529.2 L454.2 521.7 L455.2 514.0 L456.2 505.9 L457.2 497.6 L458.2 488.9 L459.2 479.9 L460.2 470.4 L461.2 460.4 L462.2 449.5 L463.2 438.0 L464.2 426.9 L465.2 416.7 L466.2 407.0 L467.2 397.7 L468.2 388.5 L469.2 379.4 L470.2 371.7 L471.2 366.5 L472.2 362.3 L473.2 359.0 L474.2 356.4 L475.2 354.2 L476.2 352.3 L477.2 350.8 L478.2 349.8 L479.2 349.1 L480.2 348.5 L481.2 348.1 L482.2 348.0 L483.2 348.6 L484.2 349.7 L485.2 351.2 L486.2 352.8 L487.2 354.7 L488.2 357.1 L489.2 359.9 L490.2 363.2 L491.2 367.5 L492.2 372.8 L493.2 378.7 L494.2 385.8 L495.2 394.3 L496.2 403.6 L497.2 420.5 L498.2 442.8 L499.2 457.3 L500.2 477.7 L501.2 498.4 L502.2 513.0 L503.2 528.5 L504.2 548.8 L505.2 565.7 L506.2 577.2 L507.2 587.1 L508.2 592.7 L509.2 590.9 L510.2 587.5 L511.2 583.2 L512.2 575.8 L513.2 565.3 L514.2 556.6 L515.2 547.4 L516.2 533.1 L517.2 525.8 L518.2 519.9 L519.2 512.1 L520.2 502.0 L521.2 491.8 L522.2 483.6 L523.2 477.1 L524.2 471.3 L525.2 466.4 L526.2 462.0 L527.2 458.0 L528.2 454.3 L529.2 451.1 L530.2 448.2 L531.2 445.6 L532.2 443.1 L533.2 440.9 L534.2 438.9 L535.2 437.2 L536.2 435.5 L537.2 434.0 L538.2 432.6 L539.2 431.3 L540.2 430.1 L541.2 428.9 L542.2 427.8 L543.2 426.8 L544.2 425.8 L545.2 424.8 L546.2 424.0 L547.2 423.1 L548.2 422.3 L549.2 421.6 L550.2 420.9 L551.2 420.1 L552.2 419.3 L553.2 418.8 L554.2 418.9 L555.2 420.0 L556.2 421.9 L557.2 424.3 L558.2 428.0 L559.2 433.0 L560.2 438.7 L561.2 445.4 L562.2 453.2 L563.2 461.8 L564.2 471.4 L565.2 481.8 L566.2 492.4 L567.2 503.3 L568.2 514.9 L569.2 527.5 L570.2 539.9 L571.2 551.7 L572.2 561.8 L573.2 570.4 L574.2 577.3 L575.2 580.5 L576.2 580.0 L577.2 578.8 L578.2 576.9 L579.2 568.8 L580.2 557.9 L581.2 545.4 L582.2 532.5 L583.2 519.8 L584.2 508.0 L585.2 498.2 L586.2 489.5 L587.2 484.3 L588.2 481.0 L589.2 480.1 L590.2 484.1 L591.2 489.8 L592.2 494.9 L593.2 500.1 L594.2 504.3 L595.2 508.1 L596.2 510.0 L597.2 509.6 L598.2 508.4 L599.2 506.6 L600.2 502.8 L601.2 494.4 L602.2 485.9 L603.2 477.8 L604.2 469.8 L605.2 461.7 L606.2 453.6 L607.2 449.7 L608.2 448.3 L609.2 447.5 L610.2 448.2 L611.2 450.9 L612.2 454.6 L613.2 460.6 L614.2 468.5 L615.2 476.6 L616.2 485.1 L617.2 493.8 L618.2 501.4 L619.2 508.5 L620.2 514.0 L621.2 516.9 L622.2 519.2 L623.2 520.5 L624.2 520.6 L625.2 519.4 L626.2 517.3 L627.2 514.6 L628.2 510.7 L629.2 504.0 L630.2 496.9 L631.2 490.8 L632.2 484.9 L633.2 479.7 L634.2 476.0 L635.2 472.9 L636.2 470.4 L637.2 468.4 L638.2 467.0 L639.2 465.9 L640.2 465.5 L641.2 466.1 L642.2 467.3 L643.2 469.0 L644.2 471.0 L645.2 474.4 L646.2 478.8 L647.2 483.6 L648.2 488.3 L649.2 493.4 L650.2 498.9 L651.2 504.7 L652.2 511.1 L653.2 518.0 L654.2 524.9 L655.2 531.2 L656.2 537.3 L657.2 543.1 L658.2 548.0 L659.2 551.5 L660.2 554.5 L661.2 556.0 L662.2 555.0 L663.2 552.4 L664.2 548.7 L665.2 543.6 L666.2 535.2 L667.2 525.4 L668.2 515.3 L669.2 504.0 L670.2 492.8 L671.2 481.8 L672.2 471.0 L673.2 460.4 L674.2 450.6 L675.2 440.9 L676.2 430.6 L677.2 418.2 L678.2 409.9 L679.2 403.2 L680.2 387.8 L681.2 379.8 L682.2 374.3 L683.2 368.8 L684.2 362.9 L685.2 357.3 L686.2 352.7 L687.2 348.9 L688.2 345.4 L689.2 342.3 L690.2 339.7 L691.2 337.6 L692.2 335.9 L693.2 334.4 L694.2 333.0 L695.2 331.9 L696.2 330.9 L697.2 330.2 L698.2 329.6 L699.2 329.1 L700.2 328.6 L701.2 328.2 L702.2 327.9 L703.2 327.6 L704.2 327.5 L705.2 327.6 L706.2 327.9 L707.2 328.5 L708.2 329.3 L709.2 330.3 L710.2 331.3 L711.2 332.4 L712.2 333.7 L713.2 335.4 L714.2 337.5 L715.2 339.8 L716.2 342.4 L717.2 345.5 L718.2 349.3 L719.2 353.7 L720.2 358.5 L721.2 364.0 L722.2 370.2 L723.2 376.6 L724.2 382.7 L725.2 388.9 L726.2 395.1 L727.2 401.2 L728.2 407.3 L729.2 413.2 L730.2 419.0 L731.2 424.7 L732.2 430.6 L733.2 436.6 L734.2 442.6 L735.2 448.7 L736.2 454.7 L737.2 460.8 L738.2 466.9 L739.2 473.0 L740.2 478.9 L741.2 484.7 L742.2 490.6 L743.2 496.5 L744.2 501.8 L745.2 505.7 L746.2 509.1 L747.2 511.7 L748.2 512.5 L749.2 511.4 L750.2 509.2 L751.2 506.4 L752.2 503.4 L753.2 500.3 L754.2 496.6 L755.2 492.4 L756.2 488.0 L757.2 483.7 L758.2 479.7 L759.2 475.9 L760.2 472.0 L761.2 468.0 L762.2 463.8 L763.2 459.4 L764.2 455.1 L765.2 450.5 L766.2 445.1 L767.2 438.4 L768.2 426.0 L769.2 415.8 L770.2 419.7 L771.2 410.3 L772.2 396.1 L773.2 384.5 L774.2 372.7 L775.2 362.4 L776.2 355.0 L777.2 348.9 L778.2 343.5 L779.2 338.9 L780.2 334.7 L781.2 331.0 L782.2 328.1 L783.2 325.6 L784.2 323.5 L785.2 321.6 L786.2 320.0 L787.2 318.6 L788.2 317.4 L789.2 316.2 L790.2 315.2 L791.2 314.2 L792.2 313.3 L793.2 312.4 L794.2 311.6 L795.2 310.9 L796.2 310.3 L797.2 309.7 L798.2 309.1 L799.2 308.6 L800.2 308.1 L801.2 307.7 L802.2 307.3 L803.2 306.9 L804.2 306.5 L805.2 306.2 L806.2 305.9 L807.2 305.6 L808.2 305.3 L809.2 305.0 L810.2 304.8 L811.2 304.6 L812.2 304.4 L813.2 304.1 L814.2 303.9 L815.2 303.8 L816.2 303.6 L817.2 303.4 L818.2 303.3 L819.2 303.1 L820.2 303.0 L821.2 302.9 L822.2 302.8 L823.2 302.6 L824.2 302.5 L825.2 302.4 L826.2 302.3 L827.2 302.2 L828.2 302.2 L829.2 302.1 L830.2 302.0 L831.2 301.9 L832.2 301.8 L833.2 301.7 L834.2 301.7 L835.2 301.6 L836.2 301.5 L837.2 301.4 L838.2 301.4 L839.2 301.3 L840.2 301.3 L841.2 301.2 L842.2 301.1 L843.2 301.1 L844.2 301.0 L845.2 301.0 L846.2 301.0 L847.2 300.9 L848.2 300.9 L849.2 300.8 L850.2 300.8 L851.2 300.8 L852.2 300.7 L853.2 300.7 L854.2 300.7 L855.2 300.6 L856.2 300.6 L857.2 300.6 L858.2 300.5 L859.2 300.5 L860.2 300.5 L861.2 300.4 L862.2 300.4 L863.2 300.4 L864.2 300.3 L865.2 300.3 L866.2 300.3 L867.2 300.2 L868.2 300.2 L869.2 300.2 L870.2 300.2 L871.2 300.1 L872.2 300.1 L873.2 300.1 L874.2 300.1 L875.2 300.0 L876.2 300.0 L877.2 300.0 L878.2 300.0 L879.2 299.9 L880.2 299.9 L881.2 299.9 L882.2 299.9 L883.2 299.9 L884.2 299.8 L885.2 299.8 L886.2 299.8 L887.2 299.8 L888.2 299.8 L889.2 299.8 L890.2 299.7 L891.2 299.7 L892.2 299.7 L893.2 299.7 L894.2 299.7 L895.2 299.7 L896.2 299.6 L897.2 299.6 L898.2 299.6 L899.2 299.6 L900.2 299.6 L901.2 299.6 L902.2 299.6 L903.2 299.5 L904.2 299.5 L905.2 299.5 L906.2 299.5 L907.2 299.5 L908.2 299.5 L909.2 299.5 L910.2 299.5 L911.2 299.4 L912.2 299.4 L913.2 299.4 L914.2 299.4 L915.2 299.4 L916.2 299.4 L917.2 299.4 L918.2 299.4 L919.2 299.4 L920.2 299.4 L921.2 299.3 L922.2 299.3 L923.2 299.3 L924.2 299.3 L925.2 299.3 L926.2 299.3 L927.2 299.3 L928.2 299.3 L929.2 299.3 L930.2 299.3 L931.2 299.3 L932.2 299.3 L933.2 299.2 L934.2 299.2 L935.2 299.2 L936.2 299.2 L937.2 299.2 L938.2 299.2 L939.2 299.2 L940.2 299.2 L941.2 299.2 L942.2 299.2 L943.2 299.2 L944.2 299.2 L945.2 299.2 L946.2 299.2 L947.2 299.2 L948.2 299.2 L949.2 299.2 L950.2 299.1 L951.2 299.1 L952.2 299.1 L953.2 299.1 L954.2 299.1 L955.2 299.1 L956.2 299.1 L957.2 299.1 L958.2 299.1 L959.2 299.1 L960.2 299.1 L961.2 299.1 L962.2 299.1 L963.2 299.1 L964.2 299.1 L965.2 299.1 L966.2 299.1 L967.2 299.1 L968.2 299.1 L969.2 299.1 L970.2 299.0 L971.2 299.0 L972.2 299.0 L973.2 299.0 L974.2 299.0 L975.2 299.0 L976.2 299.0 L977.2 299.0 L978.2 299.0 L979.2 299.0 L980.2 299.0 L981.2 299.0 L982.2 299.0 L983.2 299.0 L984.2 299.0 L985.2 299.0 L986.2 299.0 L987.2 299.0 L988.2 299.0 L989.2 299.0 L990.2 299.0 L991.2 298.9 L992.2 298.9 L993.2 298.9 L994.2 298.9 L995.2 298.9 L996.2 298.9 L997.2 298.9 L998.2 298.9 L999.2 298.9 L1000.2 298.9 L1001.2 298.9 L1002.2 298.9 L1003.2 298.9 L1004.2 298.9 L1005.2 298.9 L1006.2 298.9 L1007.2 298.9 L1008.2 298.9 L1009.2 298.9 L1010.2 298.9 L1011.2 298.9 L1012.2 298.9 L1013.2 298.9 L1014.2 298.9 L1015.2 298.8 L1016.2 298.8 L1017.2 298.8 L1018.2 298.8 L1019.2 298.8 L1020.2 298.8 L1021.2 298.8 L1022.2 298.8 L1023.2 298.8 L1024.2 298.8 L1025.2 298.8 L1026.2 298.8 L1027.2 298.8 L1028.2 298.8 L1029.2 298.8 L1030.2 298.8 L1031.2 298.8 L1032.2 298.8 L1033.2 298.8 L1034.2 298.8 L1035.2 298.8 L1036.2 298.8 L1037.2 298.8 L1038.2 298.8 L1039.2 298.8 L1040.2 298.8 L1041.2 298.8 L1042.2 298.8 L1043.2 298.7" stroke="#000" stroke-width="4.0" fill="none" stroke-linejoin="round"/>
<text transform="translate(159.96 61.10) scale(1.1831 1)" font-size="41.3">Site b</text>
<text transform="translate(162.44 225.00) scale(1.1741 1)" font-size="41.3">Site a</text>
<text transform="translate(51.51 311.60) scale(1.1651 1)" font-size="41.0">0.0</text>
<text transform="translate(51.47 453.60) scale(1.1593 1)" font-size="41.0">0.5</text>
<text transform="translate(51.53 595.50) scale(1.1666 1)" font-size="41.0">1.0</text>
<text transform="translate(171.23 668.50) scale(1.1098 1)" font-size="41.0">-10</text>
<text transform="translate(373.94 668.50) scale(1.1060 1)" font-size="41.0">-5</text>
<text transform="translate(570.77 668.50) scale(1.1513 1)" font-size="41.0">0</text>
<text transform="translate(762.28 668.50) scale(1.1174 1)" font-size="41.0">5</text>
<text transform="translate(941.01 668.50) scale(1.1169 1)" font-size="41.0">10</text>
<text transform="translate(430.70 722.00) scale(1.2143 1)" font-size="39.5">Velocity (mm/s)</text>
<text transform="translate(35.40 434.00) rotate(-90) scale(1.0430 1)" font-size="39.5">Absorption (%)</text>
</svg>
</body></html>
